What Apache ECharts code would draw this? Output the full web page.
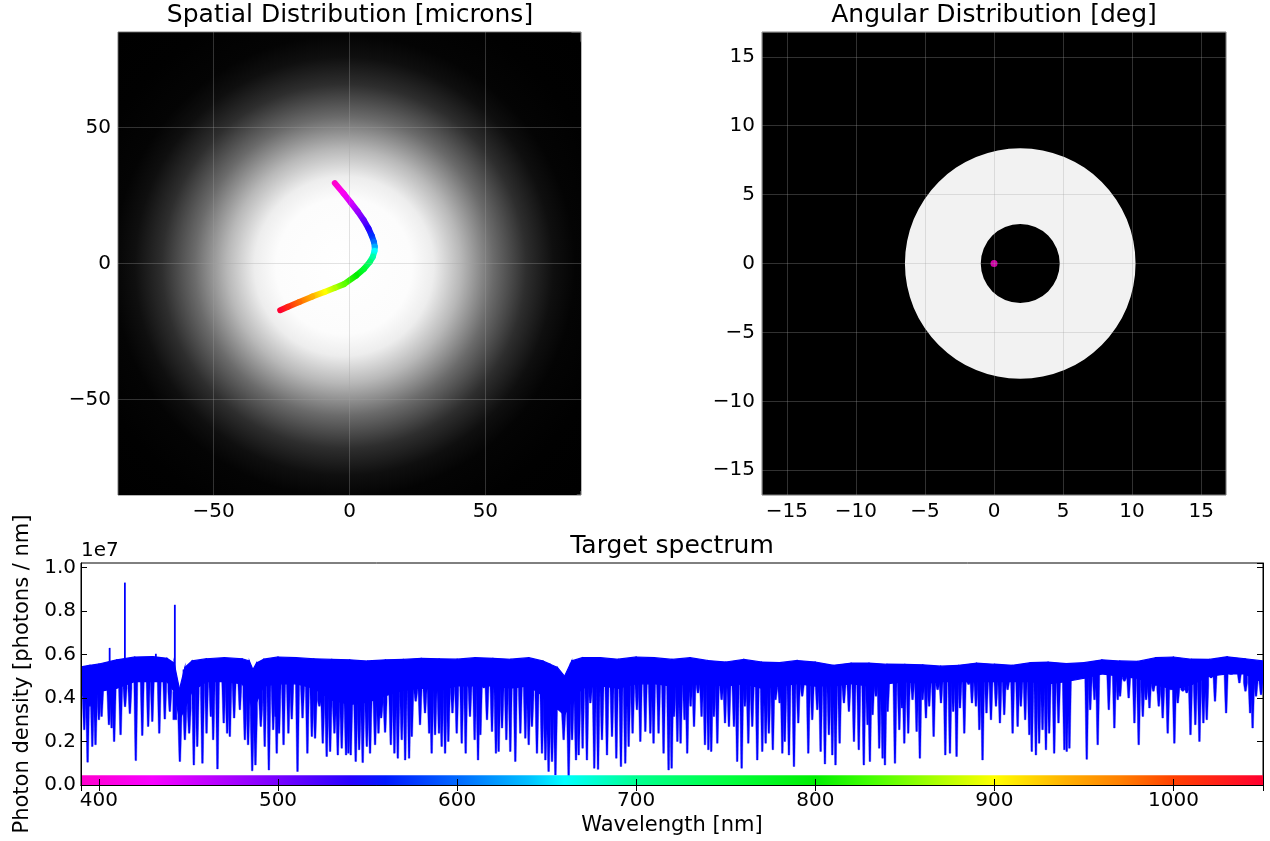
<!DOCTYPE html>
<html><head><meta charset="utf-8">
<script src="https://cdn.jsdelivr.net/npm/echarts@6/dist/echarts.min.js"></script>
<style>html,body{margin:0;padding:0;background:#fff}#c{width:1270px;height:841px}</style>
</head><body><div id="c"></div>
<script>
// ---------------- data ----------------
// Spatial distribution: spot brightness profile (radius in microns -> relative intensity)
const spotCenter = [-2, -1];
const spotProfileR = [0, 25, 33, 43, 55, 67, 77, 85, 100, 120];
const spotProfileI = [1, 0.99, 0.93, 0.72, 0.42, 0.18, 0.06, 0.015, 0.003, 0];
// centroid trace vs wavelength
const traceWl = [390,420,450,480,510,540,570,600,630,660,690,720,760,800,840,870,900,940,980,1020,1050];
const traceX  = [-5.4,-2.2,0.5,3.0,5.2,7.0,8.2,9.0,9.3,9.2,8.6,7.5,5.3,2.5,-2.0,-5.5,-9.2,-13.8,-18.5,-22.8,-25.5];
const traceY  = [29.6,25.8,22.4,19.2,16.0,12.9,10.2,7.9,6.2,4.6,2.5,0.6,-2.0,-4.4,-7.6,-9.0,-10.5,-12.2,-14.2,-16.0,-17.2];
// Angular distribution: annulus (deg) and pointing
const ringCenter = [1.9, 0];
const ringOuter = 8.35;
const ringInner = 2.86;
const pointing = [[0, 0]];
// Target spectrum (values in 1e6 photons/nm)
const envWl = [390,395,400,410,420,430,438,442,445,448,452,460,470,480,484,486,488,492,500,510,520,530,540,550,560,570,580,590,600,610,620,630,640,648,652,656,660,664,670,680,690,700,710,720,730,740,750,760,770,780,790,800,810,820,830,840,850,860,870,880,890,900,910,920,930,940,950,960,970,980,990,1000,1010,1020,1030,1040,1050];
const envTop = [5.43,5.50,5.56,5.75,5.88,5.90,5.82,5.60,4.40,5.40,5.70,5.80,5.85,5.80,5.70,5.30,5.60,5.78,5.88,5.85,5.80,5.77,5.75,5.70,5.75,5.77,5.82,5.80,5.78,5.85,5.82,5.78,5.85,5.70,5.55,5.40,5.00,5.70,5.85,5.85,5.78,5.88,5.85,5.77,5.85,5.72,5.65,5.77,5.65,5.62,5.72,5.65,5.50,5.60,5.60,5.55,5.54,5.52,5.46,5.50,5.60,5.55,5.50,5.62,5.65,5.58,5.62,5.75,5.70,5.68,5.85,5.88,5.78,5.77,5.89,5.80,5.70];
const envFloor = [4.1,4.1,4.3,4.45,4.75,4.75,4.75,4.3,3.0,3.5,4.3,4.75,4.75,4.65,4.1,3.2,3.8,4.55,4.65,4.65,4.45,3.9,3.7,3.8,4.1,4.35,4.45,4.35,4.55,4.55,4.55,4.45,4.55,4.1,3.3,3.5,3.2,3.9,4.45,4.55,4.45,4.65,4.65,4.55,4.65,4.65,4.55,4.65,4.45,4.55,4.65,4.55,4.55,4.65,4.55,4.65,4.75,4.65,4.75,4.75,4.75,4.75,4.75,4.75,4.65,4.75,4.9,5.1,5.0,4.9,4.6,4.4,4.6,5.0,5.1,5.1,4.7];
const absWl = [391.8,393.7,395.0,396.3,398.1,400.0,401.5,405.6,407.1,408.5,412.1,414.6,417.3,420.6,424.2,427.5,429.8,433.7,436.8,439.6,442.4,445.2,448.0,450.4,453.0,454.9,457.8,460.1,462.5,463.8,466.2,469.7,471.6,473.1,475.5,478.7,481.5,483.3,485.6,487.4,490.4,492.6,494.9,497.3,498.6,
499.3,500.6,503.1,505.8,507.7,510.9,513.7,516.4,518.9,520.7,523.1,525.0,527.2,529.1,531.5,533.4,535.6,538.0,539.3,540.6,543.4,545.3,547.3,549.6,551.4,554.2,556.1,557.6,559.8,563.0,565.0,566.9,569.1,571.0,573.2,574.7,576.9,579.3,582.1,584.4,585.8,587.7,589.9,591.4,593.3,595.1,597.4,599.8,602.6,604.8,607.2,
609.8,611.7,613.0,614.9,616.7,619.5,621.7,623.2,625.1,627.5,629.7,632.5,635.3,638.1,640.0,641.8,644.6,647.4,649.3,651.1,653.0,654.9,657.1,659.5,662.3,664.2,666.4,667.9,670.1,672.5,674.4,676.6,678.7,680.9,683.7,686.5,688.9,691.5,693.9,695.8,698.0,700.4,702.3,705.1,707.9,709.7,712.5,715.3,718.1,
719.8,721.1,723.0,724.8,727.0,728.5,730.4,732.3,734.5,736.5,738.4,740.3,741.9,743.4,745.3,747.7,749.6,751.8,754.6,756.4,758.9,760.7,762.6,764.8,767.6,770.4,772.3,774.1,776.3,777.8,780.1,781.6,783.0,785.3,788.1,790.5,792.7,796.1,798.3,801.1,803.0,805.4,807.6,809.5,811.3,813.6,816.0,818.8,821.6,824.3,827.1,
829.2,830.5,832.0,833.9,835.7,837.6,838.9,840.4,842.3,844.5,846.9,848.4,849.7,851.9,854.3,856.6,858.4,859.9,861.8,863.6,866.1,868.3,870.2,872.6,875.2,877.0,878.9,880.8,883.2,885.6,887.5,889.7,891.6,893.4,895.6,898.1,900.9,903.1,905.5,907.4,910.2,913.0,914.8,917.2,919.5,920.9,923.2,925.0,926.9,928.8,930.6,933.4,935.8,
939.1,940.4,941.9,943.8,946.0,948.4,951.6,953.5,955.9,957.7,959.6,963.9,967.0,968.9,970.2,972.6,975.0,978.2,980.6,982.9,984.7,986.6,988.8,991.8,994.0,996.8,998.7,1000.5,1002.4,1005.2,1007.4,1009.5,1012.2,1014.5,1016.7,1018.6,1021.0,1023.2,1025.6,1029.4,1032.2,1034.6,1036.8,1040.2,1042.8,1044.2,1046.1,1048.9];
const absMin = [2.54,1.05,3.62,1.77,1.85,3.0,3.15,2.77,2.62,2.0,2.31,3.6,3.28,1.12,2.28,2.69,2.92,2.38,3.03,3.38,3.0,1.08,2.08,2.38,0.92,1.77,1.0,2.38,3.15,2.08,0.74,2.85,2.38,2.23,3.08,3.46,2.08,1.85,0.65,0.92,2.69,1.77,0.69,2.54,3.15,
1.46,2.38,1.85,2.38,3.03,0.62,3.08,1.46,2.23,2.15,3.62,1.92,1.31,1.54,2.38,1.38,1.69,1.38,1.46,1.38,1.08,1.62,1.03,1.77,1.46,1.85,2.38,3.08,2.42,1.85,1.46,1.23,2.08,1.15,1.23,2.23,3.85,2.77,3.31,2.38,1.46,2.31,2.38,1.77,1.46,2.0,3.31,2.38,1.92,1.46,3.15,
2.08,1.15,2.31,4.46,3.0,2.46,1.46,1.54,2.62,2.08,1.54,1.08,2.38,2.15,1.85,2.69,1.46,1.46,1.15,0.62,1.08,0.46,3.46,2.08,0.38,2.08,1.15,1.38,1.69,1.15,3.77,0.77,0.72,2.08,1.38,2.23,1.23,0.85,1.0,1.77,2.38,3.46,2.0,2.46,2.38,1.92,2.38,1.46,0.69,
0.77,3.15,2.0,1.92,3.0,1.46,3.62,2.69,4.23,3.15,1.85,1.62,1.54,3.15,1.92,3.92,2.85,2.69,2.69,1.08,0.77,3.62,1.92,2.69,1.15,1.54,1.92,2.38,1.62,3.92,3.77,1.46,2.0,1.38,0.85,2.85,4.08,1.46,3.0,3.46,1.54,0.97,2.31,1.38,0.92,1.92,3.77,3.38,2.0,1.62,0.92,
2.77,1.08,3.23,4.08,1.69,1.23,0.92,3.38,4.77,1.0,2.54,3.54,1.92,2.38,3.92,2.46,1.23,3.92,3.08,3.62,2.23,4.38,3.77,1.38,1.46,3.38,1.31,3.54,2.38,4.62,3.77,3.62,2.54,1.15,3.31,3.0,3.62,2.85,3.23,4.38,2.38,2.69,3.62,3.0,2.31,1.54,1.38,1.92,2.54,1.62,2.38,1.46,2.85,
1.62,1.54,1.69,4.85,5.0,5.31,1.18,3.46,3.92,1.85,5.31,3.46,2.62,3.92,4.08,4.77,4.0,2.85,1.85,3.15,3.92,3.54,4.31,3.62,3.08,2.38,4.38,1.92,3.77,4.31,4.23,2.31,2.77,2.0,2.85,3.0,4.92,3.85,5.15,3.31,5.08,5.31,4.69,4.31,3.31,2.62,4.08,4.15];
const emWl = [406.0, 414.5, 431.8, 442.4];
const emMax = [6.3, 9.3, 6.03, 8.28];
// wavelength colour scale
const cmapWl = [390,430,470,500,540,560,600,640,660,700,750,800,830,870,900,940,970,1000,1050];
const cmapColor = ['#ff00cc','#f800ff','#b000ff','#7800ff','#2800ff','#0018ff','#0068ff','#00c0ff','#00ffff','#00ff90','#00ff40','#00ee00','#40ff00','#b0ff00','#ffff00','#ffb000','#ff8000','#ff4000','#ff0030'];
const colorbarRange = [0, 0.45];   // 1e6 photons/nm

// ---------------- helpers ----------------
const FONT = 'DejaVu Sans';
const MINUS = '\u2212';
function hexRgb(h){return [parseInt(h.slice(1,3),16),parseInt(h.slice(3,5),16),parseInt(h.slice(5,7),16)];}
function wlColor(w){
  if (w <= cmapWl[0]) return cmapColor[0];
  for (let i=0;i<cmapWl.length-1;i++){
    if (w <= cmapWl[i+1]){
      const t=(w-cmapWl[i])/(cmapWl[i+1]-cmapWl[i]);
      const a=hexRgb(cmapColor[i]), b=hexRgb(cmapColor[i+1]);
      return 'rgb('+a.map((v,k)=>Math.round(v+(b[k]-v)*t)).join(',')+')';
    }
  }
  return cmapColor[cmapColor.length-1];
}
const fmtSigned = v => (v < 0 ? MINUS + Math.abs(v) : String(v));
const gridLineStyle = {color:'rgba(162,162,162,0.3)', width:1};

function darkAxis(grid, min, max, split){
  return {
    type:'value', gridIndex:grid, min:min, max:max, splitNumber:split, z:5,
    axisLine:{show:false}, axisTick:{show:false},
    axisLabel:{fontSize:20, fontFamily:FONT, color:'#000', margin:7, showMinLabel:false, showMaxLabel:false, formatter:fmtSigned, hideOverlap:false},
    splitLine:{show:true, lineStyle:gridLineStyle}
  };
}

const option = {
  animation:false,
  textStyle:{fontFamily:FONT},
  grid:[
    {left:118, top:32, width:463, height:463, show:true, backgroundColor:'#000', borderColor:'#808080', borderWidth:1, containLabel:false, outerBoundsMode:'none'},
    {left:762, top:32, width:464, height:463, show:true, backgroundColor:'#000', borderColor:'#808080', borderWidth:1, containLabel:false, outerBoundsMode:'none'},
    {left:81, top:563, width:1182, height:222, show:true, backgroundColor:'#fff', borderColor:'#000', borderWidth:1, containLabel:false, outerBoundsMode:'none'}
  ],
  xAxis:[
    darkAxis(0,-85.2,85.2,3),
    darkAxis(1,-16.8,16.8,7),
    {type:'value', gridIndex:2, min:390, max:1050, splitNumber:7, position:'bottom', z:5,
     axisLine:{show:true, lineStyle:{color:'#000', width:1}},
     axisTick:{show:true, inside:true, length:6, lineStyle:{color:'#000'}},
     axisLabel:{fontSize:20, fontFamily:FONT, color:'#000', margin:6, showMinLabel:false, showMaxLabel:false, hideOverlap:false, formatter:v=>String(v)},
     splitLine:{show:false},
     name:'Wavelength [nm]', nameLocation:'middle', nameGap:30, nameTextStyle:{fontSize:21, fontFamily:FONT, color:'#000'}},
    {type:'value', gridIndex:2, min:390, max:1050, splitNumber:7, position:'top', z:5,
     axisLine:{show:true, lineStyle:{color:'#000', width:1}},
     axisTick:{show:true, inside:true, length:6, lineStyle:{color:'#000'}},
     axisLabel:{show:false}, splitLine:{show:false}}
  ],
  yAxis:[
    darkAxis(0,-85.2,85.2,3),
    darkAxis(1,-16.8,16.8,7),
    {type:'value', gridIndex:2, min:0, max:1.02e7, splitNumber:5, position:'left', z:5,
     axisLine:{show:true, lineStyle:{color:'#000', width:1}},
     axisTick:{show:true, inside:true, length:6, lineStyle:{color:'#000'}},
     axisLabel:{fontSize:20, fontFamily:FONT, color:'#000', margin:5, showMaxLabel:false, hideOverlap:false, formatter:v=>(v/1e7).toFixed(1)},
     splitLine:{show:false},
     name:'Photon density [photons / nm]', nameLocation:'middle', nameRotate:90, nameGap:48, nameTextStyle:{fontSize:21, fontFamily:FONT, color:'#000'}},
    {type:'value', gridIndex:2, min:0, max:1.02e7, splitNumber:5, position:'right', z:5,
     axisLine:{show:true, lineStyle:{color:'#000', width:1}},
     axisTick:{show:true, inside:true, length:6, lineStyle:{color:'#000'}},
     axisLabel:{show:false}, splitLine:{show:false}}
  ],
  graphic:[
    {type:'text', x:350, y:15, style:{text:'Spatial Distribution [microns]', fontSize:25, fontFamily:FONT, fill:'#000', align:'center', verticalAlign:'middle'}},
    {type:'text', x:994, y:15, style:{text:'Angular Distribution [deg]', fontSize:25, fontFamily:FONT, fill:'#000', align:'center', verticalAlign:'middle'}},
    {type:'text', x:672, y:546, style:{text:'Target spectrum', fontSize:25, fontFamily:FONT, fill:'#000', align:'center', verticalAlign:'middle'}},
    {type:'text', x:81, y:551, style:{text:'1e7', fontSize:20, fontFamily:FONT, fill:'#000', align:'left', verticalAlign:'middle'}}
  ],
  series:[
    // gaussian spot
    {type:'custom', xAxisIndex:0, yAxisIndex:0, clip:true, silent:true, z:1,
     data:[[spotCenter[0], spotCenter[1]]],
     renderItem:function(params, api){
       const c = api.coord([api.value(0), api.value(1)]);
       const R = spotProfileR[spotProfileR.length-1];
       const rpx = api.size([R, 0])[0];
       const stops = spotProfileR.map((r,i)=>{const g=Math.round(255*spotProfileI[i]); return {offset:r/R, color:'rgb('+g+','+g+','+g+')'};});
       return {type:'circle', shape:{cx:c[0], cy:c[1], r:rpx}, style:{fill:new echarts.graphic.RadialGradient(0.5,0.5,0.5,stops)}};
     }},
    // coloured centroid trace
    {type:'custom', xAxisIndex:0, yAxisIndex:0, clip:true, silent:true, z:3,
     data:traceWl.map((w,i)=>[traceX[i], traceY[i], w]),
     renderItem:function(params, api){
       const i = params.dataIndex;
       if (i >= traceWl.length-1) return null;
       const p1 = api.coord([traceX[i], traceY[i]]);
       const p2 = api.coord([traceX[i+1], traceY[i+1]]);
       const grad = new echarts.graphic.LinearGradient(p1[0],p1[1],p2[0],p2[1],[{offset:0,color:wlColor(traceWl[i])},{offset:1,color:wlColor(traceWl[i+1])}], true);
       return {type:'line', shape:{x1:p1[0],y1:p1[1],x2:p2[0],y2:p2[1]}, style:{stroke:grad, lineWidth:6, lineCap:'round'}};
     }},
    // annulus
    {type:'custom', xAxisIndex:1, yAxisIndex:1, clip:true, silent:true, z:1,
     data:[[ringCenter[0], ringCenter[1], ringOuter, ringInner]],
     renderItem:function(params, api){
       const c = api.coord([api.value(0), api.value(1)]);
       const ro = api.size([api.value(2),0])[0];
       const ri = api.size([api.value(3),0])[0];
       return {type:'ring', shape:{cx:c[0], cy:c[1], r:ro, r0:ri}, style:{fill:'#f2f2f2'}};
     }},
    {type:'scatter', xAxisIndex:1, yAxisIndex:1, silent:true, z:3, data:pointing, symbolSize:7, itemStyle:{color:'#ff00cc'}},
    // spectrum dense band
    {type:'custom', xAxisIndex:2, yAxisIndex:2, clip:true, silent:true, z:2,
     data:envWl.map((w,i)=>[w, envTop[i]*1e6, envFloor[i]*1e6]),
     renderItem:function(params, api){
       const i = params.dataIndex;
       if (i >= envWl.length-1) return null;
       const pts = [
         api.coord([envWl[i], envTop[i]*1e6]), api.coord([envWl[i+1], envTop[i+1]*1e6]),
         api.coord([envWl[i+1], envFloor[i+1]*1e6]), api.coord([envWl[i], envFloor[i]*1e6])
       ];
       return {type:'polygon', shape:{points:pts}, style:{fill:'#0000ff', stroke:'#0000ff', lineWidth:1.2}};
     }},
    // absorption lines (V-shaped dips)
    {type:'custom', xAxisIndex:2, yAxisIndex:2, clip:true, silent:true, z:2,
     data:absWl.map((w,i)=>[w, absMin[i]*1e6]),
     renderItem:function(params, api){
       const w = api.value(0), v = api.value(1);
       let j = 0;
       while (j < envWl.length-2 && envWl[j+1] <= w) j++;
       const join = Math.min(envTop[j], envTop[j+1])*1e6 - 0.1e6;
       if (v >= join) return null;
       const a = api.coord([w, v]);
       const b = api.coord([w, join]);
       const floorPx = api.coord([w, Math.min(envFloor[j], envFloor[j+1])*1e6])[1];
       const hw = 2.0, tip = 0.8;
       const mid = Math.min(floorPx, a[1]);
       return {type:'polygon', shape:{points:[[b[0]-hw,b[1]],[b[0]+hw,b[1]],[b[0]+hw,mid],[a[0]+tip,a[1]],[a[0]-tip,a[1]],[b[0]-hw,mid]]},
               style:{fill:'#0000ff', stroke:'#0000ff', lineWidth:0.4}};
     }},
    // emission lines
    {type:'custom', xAxisIndex:2, yAxisIndex:2, clip:true, silent:true, z:2,
     data:emWl.map((w,i)=>[w, emMax[i]*1e6]),
     renderItem:function(params, api){
       const w = api.value(0), v = api.value(1);
       let j = 0;
       while (j < envWl.length-2 && envWl[j+1] <= w) j++;
       const join = Math.min(envTop[j], envTop[j+1])*1e6 - 0.1e6;
       const a = api.coord([w, v]);
       const b = api.coord([w, join]);
       return {type:'line', shape:{x1:a[0], y1:a[1], x2:b[0], y2:b[1]}, style:{stroke:'#0000ff', lineWidth:1.8}};
     }},
    // wavelength colour bar
    {type:'custom', xAxisIndex:2, yAxisIndex:2, clip:true, silent:true, z:3,
     data:[[cmapWl[0], colorbarRange[0]*1e6, cmapWl[cmapWl.length-1], colorbarRange[1]*1e6]],
     renderItem:function(params, api){
       const p0 = api.coord([api.value(0), api.value(3)]);
       const p1 = api.coord([api.value(2), api.value(1)]);
       const span = cmapWl[cmapWl.length-1]-cmapWl[0];
       const stops = cmapWl.map((w,i)=>({offset:(w-cmapWl[0])/span, color:cmapColor[i]}));
       return {type:'rect', shape:{x:p0[0], y:p0[1], width:p1[0]-p0[0], height:p1[1]-p0[1]}, style:{fill:new echarts.graphic.LinearGradient(0,0,1,0,stops)}};
     }}
  ]
};
const chart = echarts.init(document.getElementById('c'), null, {renderer:'canvas'});
chart.setOption(option);
</script>
</body></html>
